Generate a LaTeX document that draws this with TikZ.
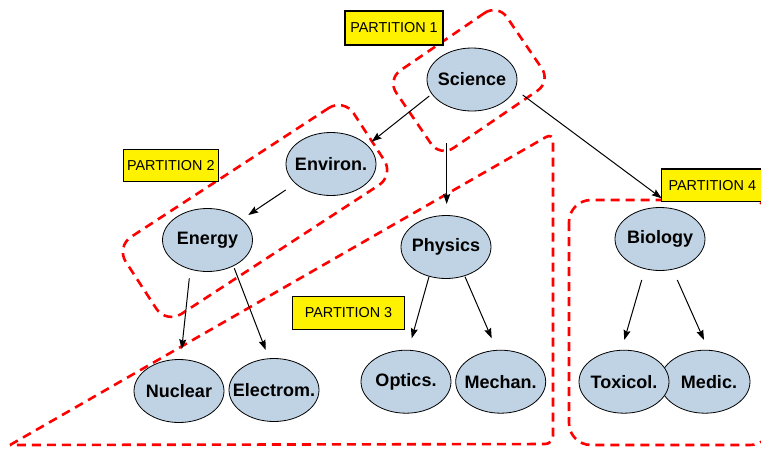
\documentclass[tikz,border=0pt]{standalone}
\usepackage{fontspec}
\setmainfont{Liberation Sans}
\usetikzlibrary{shapes.geometric,arrows.meta,calc}
\definecolor{nodefill}{RGB}{192,211,228}
\definecolor{partred}{RGB}{255,0,0}
\begin{document}
\begin{tikzpicture}[x=1pt,y=-1pt,
  topic/.style={ellipse, draw=black, line width=0.8pt, fill=nodefill,
    minimum width=90pt, minimum height=63pt, inner sep=0pt,
    font=\fontsize{18}{20}\selectfont\bfseries},
  plabel/.style={draw=black, line width=1.2pt, fill=yellow, inner sep=0pt,
    font=\fontsize{14.4}{16}\selectfont},
  part/.style={draw=partred, line width=2.6pt, dash pattern=on 9pt off 6pt},
  arr/.style={draw=black, line width=1pt,
    -{Stealth[length=10pt,width=7pt,inset=1.5pt]}}]
\useasboundingbox (0,0) rectangle (761,448);

% topic nodes
\node[topic] (sci) at (472,79.5) {\makebox[0pt]{Science}};
\node[topic] (env) at (331,164) {\makebox[0pt]{Environ.}};
\node[topic] (ene) at (207.5,240) {\makebox[0pt]{Energy}};
\node[topic] (phy) at (446,247) {\makebox[0pt]{Physics}};
\node[topic] (bio) at (660,239) {\makebox[0pt]{Biology}};
\node[topic] (nuc) at (179,391) {\makebox[0pt]{Nuclear}};
\node[topic] (ele) at (274,390) {\makebox[0pt]{Electrom.}};
\node[topic] (opt) at (406,381.7) {\makebox[0pt]{Optics.}};
\node[topic] (mec) at (500.7,381.7) {\makebox[0pt]{Mechan.}};
\node[topic] (med) at (705,381.7) {\makebox[0pt]{\hspace{8pt}Medic.}};
\node[topic] (tox) at (624,381.7) {\makebox[0pt]{Toxicol.}};

% partitions
\node[part, rounded corners=16pt, minimum width=134pt, minimum height=94pt,
  rotate=34.3] (g1) at (469,80.5) {};
\node[part, rounded corners=18pt, minimum width=272pt, minimum height=92pt,
  rotate=33.1] (g2) at (255,211) {};
\draw[part, rounded corners=8pt] (10,445) -- (553,133) -- (553,444) -- (10,445);
\draw[part, rounded corners=22pt] (569,200) rectangle (772,445);

% arrows
\draw[arr] ($(sci.center)+(-42.7,16.5)$) -- ($(env.center)+(40.7,-22.3)$);
\draw[arr] ($(sci.center)+(-25.3,63.5)$) -- ($(phy.center)+(0.7,-43)$);
\draw[arr] ($(sci.center)+(50.7,15.5)$) -- ($(bio.center)+(1.7,-40.7)$);
\draw[arr] ($(env.center)+(-45.3,26)$) -- ($(ene.center)+(40.8,-25)$);
\draw[arr] ($(ene.center)+(-18.2,38.3)$) -- ($(nuc.center)+(2.7,-41.7)$);
\draw[arr] ($(ene.center)+(26.8,28.3)$) -- ($(ele.center)+(-8.3,-40)$);
\draw[arr] ($(phy.center)+(-17,29.7)$) -- ($(opt.center)+(5.7,-43.4)$);
\draw[arr] ($(phy.center)+(19,29.7)$) -- ($(mec.center)+(-9,-43.4)$);
\draw[arr] ($(bio.center)+(-18.3,41)$) -- ($(tox.center)+(0.3,-41.7)$);
\draw[arr] ($(bio.center)+(17.3,41)$) -- ($(med.center)+(-1,-41.7)$);

% partition labels
\node[plabel, minimum width=98pt, minimum height=34pt] (l1) at (394,28) {PARTITION 1};
\node[plabel, minimum width=95pt, minimum height=32pt] (l2) at (170.8,165.5) {PARTITION 2};
\node[plabel, minimum width=111.6pt, minimum height=33pt] (l3) at (348.5,312.7) {PARTITION 3};
\node[plabel, minimum width=101pt, minimum height=32.7pt] (l4) at (712.3,185.3) {PARTITION 4};
\end{tikzpicture}
\end{document}
